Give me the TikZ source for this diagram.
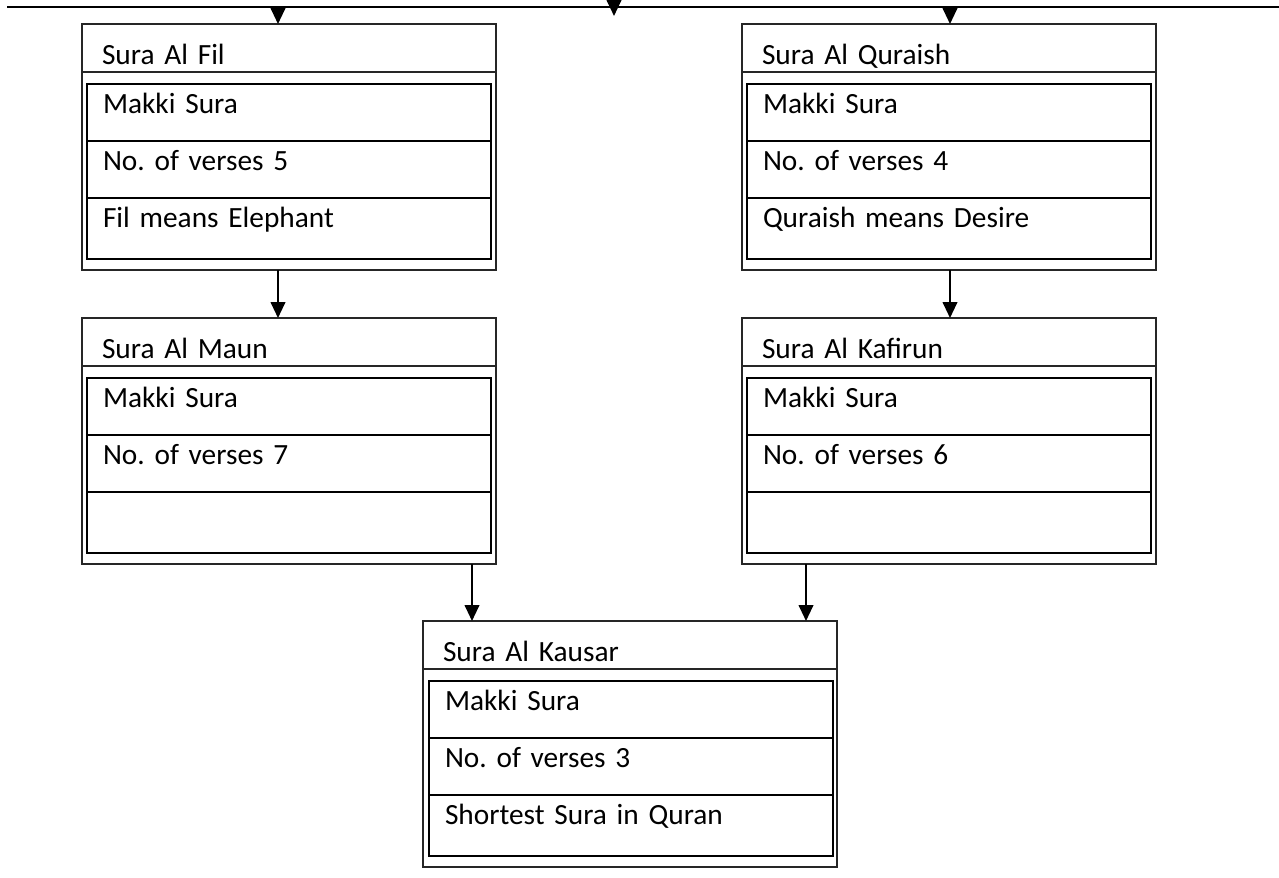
\documentclass[tikz,border=0pt]{standalone}
\usepackage{fontspec}
\setmainfont{Carlito}
\usetikzlibrary{positioning,arrows.meta}
\frenchspacing

\begin{document}
\begin{tikzpicture}[
    x=0.75pt,y=-0.75pt,
    txt/.style={font=\fontsize{22}{26}\selectfont},
    frame/.style={draw=black!85,line width=1.5pt,rectangle,outer sep=0pt,inner xsep=15pt,inner ysep=0pt,
      text width=280.5pt,align=left,text height=30pt,text depth=154.5pt,anchor=north west,txt},
    divline/.style={draw=black!85,line width=1.5pt},
    row/.style={draw,line width=2pt,rectangle,outer sep=0pt,inner xsep=12pt,inner ysep=0pt,
      text width=279pt,align=left,text height=21.75pt,text depth=21pt,txt},
    lastrow/.style={row,text depth=24pt},
    arr/.style={-{Triangle[length=12pt,width=11pt]},line width=1.5pt},
    node distance=0pt,
  ]
    \useasboundingbox (0,0) rectangle (1279,878);
    % top line
    \coordinate (lineL) at (7,7);
    \coordinate (lineR) at (1279,7);
    \draw[line width=1.5pt] (lineL) -- (lineR);
    % Sura Al Fil
    \node[frame] (fil) at (82,24) {Sura Al Fil};
    \draw[divline] ([yshift=-36pt]fil.north west) -- ([yshift=-36pt]fil.north east);
    \node[row,anchor=north west] (fil-r1) at ([xshift=3.75pt,yshift=-45pt]fil.north west) {Makki Sura};
    \node[row,below=of fil-r1] (fil-r2) {No. of verses 5};
    \node[lastrow,below=of fil-r2] (fil-r3) {Fil means Elephant};
    % Sura Al Quraish
    \node[frame] (quraish) at (742,24) {Sura Al Quraish};
    \draw[divline] ([yshift=-36pt]quraish.north west) -- ([yshift=-36pt]quraish.north east);
    \node[row,anchor=north west] (quraish-r1) at ([xshift=3.75pt,yshift=-45pt]quraish.north west) {Makki Sura};
    \node[row,below=of quraish-r1] (quraish-r2) {No. of verses 4};
    \node[lastrow,below=of quraish-r2] (quraish-r3) {Quraish means Desire};
    % Sura Al Maun
    \node[frame] (maun) at (82,318) {Sura Al Maun};
    \draw[divline] ([yshift=-36pt]maun.north west) -- ([yshift=-36pt]maun.north east);
    \node[row,anchor=north west] (maun-r1) at ([xshift=3.75pt,yshift=-45pt]maun.north west) {Makki Sura};
    \node[row,below=of maun-r1] (maun-r2) {No. of verses 7};
    \node[lastrow,below=of maun-r2] (maun-r3) {};
    % Sura Al Kafirun
    \node[frame] (kafirun) at (742,318) {Sura Al Kafirun};
    \draw[divline] ([yshift=-36pt]kafirun.north west) -- ([yshift=-36pt]kafirun.north east);
    \node[row,anchor=north west] (kafirun-r1) at ([xshift=3.75pt,yshift=-45pt]kafirun.north west) {Makki Sura};
    \node[row,below=of kafirun-r1] (kafirun-r2) {No. of verses 6};
    \node[lastrow,below=of kafirun-r2] (kafirun-r3) {};
    % Sura Al Kausar
    \node[frame] (kausar) at (423,621) {Sura Al Kausar};
    \draw[divline] ([yshift=-36pt]kausar.north west) -- ([yshift=-36pt]kausar.north east);
    \node[row,anchor=north west] (kausar-r1) at ([xshift=4.5pt,yshift=-45pt]kausar.north west) {Makki Sura};
    \node[row,below=of kausar-r1] (kausar-r2) {No. of verses 3};
    \node[lastrow,below=of kausar-r2] (kausar-r3) {Shortest Sura in Quran};
    % arrows
    \coordinate (t1) at (278,7);
    \coordinate (t2) at (950,7);
    \coordinate (m0) at (614,0);
    \coordinate (m1) at (614,16);
    \coordinate (k1) at (472,0);
    \coordinate (k2) at (806,0);
    \draw[arr] (m0) -- (m1);
    \draw[arr] (t1) -- (t1 |- fil.north);
    \draw[arr] (t2) -- (t2 |- quraish.north);
    \draw[arr] (fil.south -| t1) -- (maun.north -| t1);
    \draw[arr] (quraish.south -| t2) -- (kafirun.north -| t2);
    \draw[arr] (maun.south -| k1) -- (kausar.north -| k1);
    \draw[arr] (kafirun.south -| k2) -- (kausar.north -| k2);
  \end{tikzpicture}
\end{document}
